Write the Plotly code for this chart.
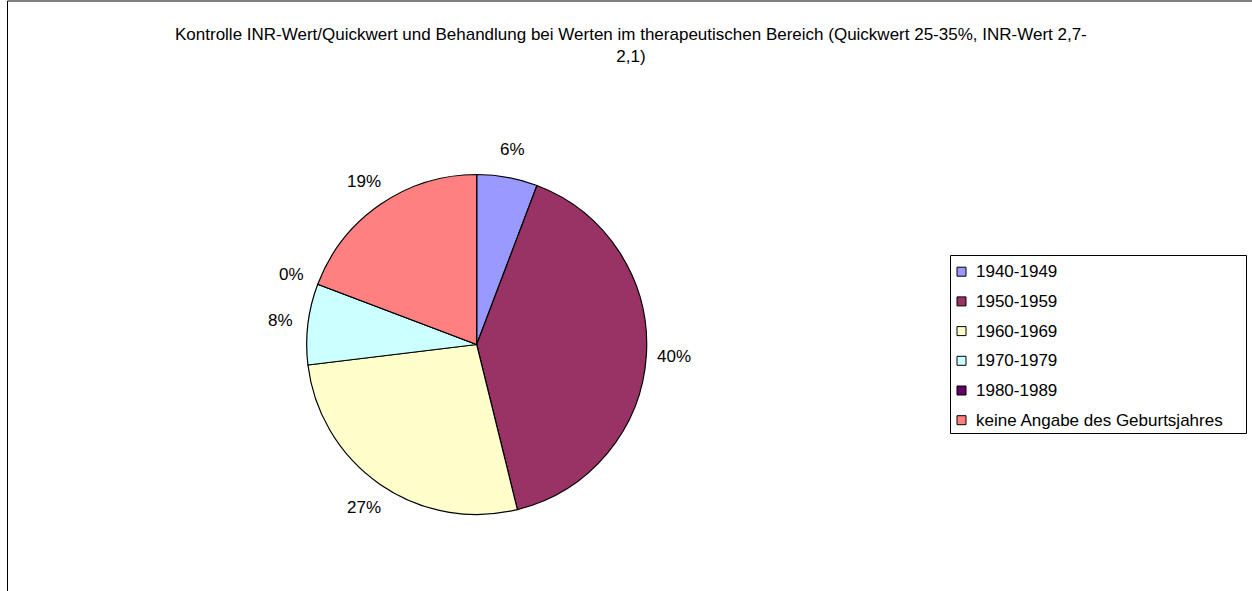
import math
import plotly.graph_objects as go

# data (counts; the labels show rounded percentages)
categories = ["1940-1949", "1950-1959", "1960-1969", "1970-1979", "1980-1989",
              "keine Angabe des Geburtsjahres"]
counts = [3, 21, 14, 4, 0, 10]
slice_colors = ["#9999FF", "#993366", "#FFFFCC", "#CCFFFF", "#660066", "#FF8080"]

title_text = ("Kontrolle INR-Wert/Quickwert und Behandlung bei Werten im therapeutischen "
              "Bereich (Quickwert 25-35%, INR-Wert 2,7-<br>2,1)")

W, H = 1252, 591
FONT = "Arial, Liberation Sans, sans-serif"


def px(x):
    return x / W


def py(y):
    return 1 - y / H


# pie geometry in pixels
cx, cy, R = 476.7, 344.5, 170.0
label_r = 198.0

fig = go.Figure()
fig.add_trace(
    go.Pie(
        labels=categories,
        values=counts,
        sort=False,
        direction="clockwise",
        rotation=0,
        marker=dict(colors=slice_colors, line=dict(color="#000000", width=1.2)),
        textinfo="none",
        hoverinfo="label+percent",
        showlegend=False,
        domain=dict(x=[px(cx - R), px(cx + R)], y=[py(cy + R), py(cy - R)]),
    )
)

annotations = []

# percentage labels outside the slices
total = sum(counts)
cum = 0.0
for v in counts:
    frac = v / total
    mid = (cum + frac / 2) * 2 * math.pi
    cum += frac
    lx = cx + label_r * math.sin(mid)
    ly = cy - label_r * math.cos(mid)
    annotations.append(
        dict(x=px(lx), y=py(ly), xref="paper", yref="paper", text=f"{round(frac * 100)}%",
             showarrow=False, xanchor="center", yanchor="middle",
             font=dict(family=FONT, size=17, color="#000000"))
    )

# title
annotations.append(
    dict(x=px(631), y=py(46), xref="paper", yref="paper", text=title_text, showarrow=False,
         xanchor="center", yanchor="middle", font=dict(family=FONT, size=17, color="#000000"))
)

shapes = []
# chart area border
shapes.append(dict(type="rect", xref="paper", yref="paper", x0=px(7.5), x1=px(1262), y0=py(600), y1=py(1.0),
                   line=dict(color="#000000", width=1), fillcolor="rgba(0,0,0,0)"))

# legend box
lg_left, lg_right, lg_top, lg_bottom = 950.5, 1246.5, 255.5, 433.5
shapes.append(dict(type="rect", xref="paper", yref="paper", x0=px(lg_left), x1=px(lg_right),
                   y0=py(lg_bottom), y1=py(lg_top), line=dict(color="#000000", width=1),
                   fillcolor="#FFFFFF"))
first_y, step = 271.7, 29.7
for i, (name, col) in enumerate(zip(categories, slice_colors)):
    yc = first_y + i * step
    shapes.append(dict(type="rect", xref="paper", yref="paper", x0=px(957), x1=px(966),
                       y0=py(yc + 4.5), y1=py(yc - 4.5), line=dict(color="#000000", width=1),
                       fillcolor=col))
    annotations.append(
        dict(x=px(974), y=py(yc), xref="paper", yref="paper", text=name, showarrow=False,
             xanchor="left", yanchor="middle", font=dict(family=FONT, size=17, color="#000000"))
    )

fig.update_layout(
    width=W,
    height=H,
    margin=dict(l=0, r=0, t=0, b=0),
    paper_bgcolor="#FFFFFF",
    plot_bgcolor="#FFFFFF",
    annotations=annotations,
    shapes=shapes,
    showlegend=False,
)

# drop the default page margin so the figure sits at the window's top-left corner
fig.write_html("out.html", config={"displayModeBar": False},
               post_script="document.body.style.margin='0px';")
